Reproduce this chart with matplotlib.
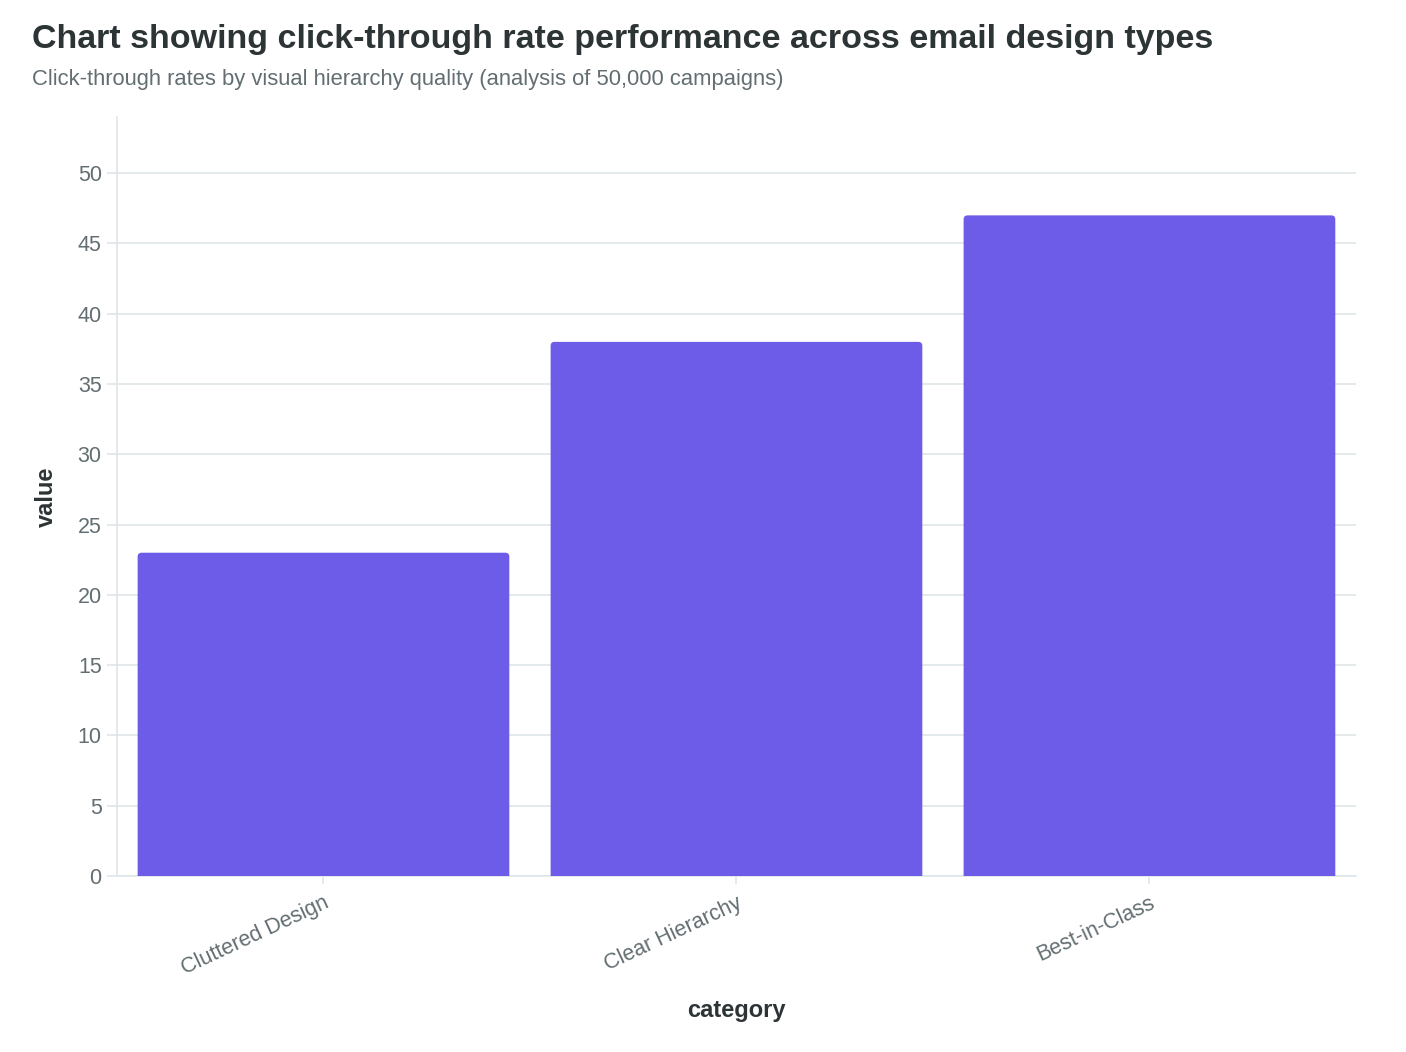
import matplotlib.pyplot as plt
from matplotlib.patches import FancyBboxPatch

categories = ["Cluttered Design", "Clear Hierarchy", "Best-in-Class"]
values = [23, 38, 47]

plt.rcParams['font.family'] = ['Liberation Sans', 'DejaVu Sans']

fig = plt.figure(figsize=(14.06, 10.52), dpi=100)
ax = fig.add_axes([0.0832, 0.1673, 0.8812, 0.7215])

bars = ax.bar(range(len(categories)), values, width=0.9, color='#6c5ce7', zorder=3)

# swap each bar for a box with rounded top corners (bottom part is clipped by the axes)
for b in bars:
    x, w, h = b.get_x(), b.get_width(), b.get_height()
    b.set_visible(False)
    box = FancyBboxPatch((x, -1), w, h + 1,
                         boxstyle="round,pad=0,rounding_size=0.0097",
                         mutation_aspect=29.3,
                         facecolor='#6c5ce7', edgecolor='none', zorder=3)
    ax.add_patch(box)

ax.set_xlim(-0.5, 2.5)
ax.set_ylim(0, 54)
ax.set_yticks(range(0, 51, 5))
ax.set_xticks(range(len(categories)))
ax.set_xticklabels(categories, rotation=25, ha='right', rotation_mode='anchor')

ax.grid(axis='y', color='#dfe6e9', linewidth=1.2, zorder=0)
for s in ['top', 'right']:
    ax.spines[s].set_visible(False)
for s in ['left', 'bottom']:
    ax.spines[s].set_color('#dfe6e9')
    ax.spines[s].set_linewidth(1.2)

ax.tick_params(axis='y', colors='#dfe6e9', labelcolor='#636e72', labelsize=15.5,
               length=7, width=1.2, pad=4)
ax.tick_params(axis='x', colors='#dfe6e9', labelcolor='#636e72', labelsize=15.5,
               length=6, width=1.2, pad=6)

ax.set_xlabel('category', fontsize=17, fontweight='bold', color='#2d3436', labelpad=14)
ax.set_ylabel('value', fontsize=17, fontweight='bold', color='#2d3436', labelpad=14)

fig.text(0.0228, 0.9625, 'Chart showing click-through rate performance across email design types',
         fontsize=24.5, fontweight='bold', color='#2d3436', va='center')
fig.text(0.0228, 0.9245, 'Click-through rates by visual hierarchy quality (analysis of 50,000 campaigns)',
         fontsize=15.8, color='#636e72', va='center')

fig.savefig('out.png', dpi=100)
